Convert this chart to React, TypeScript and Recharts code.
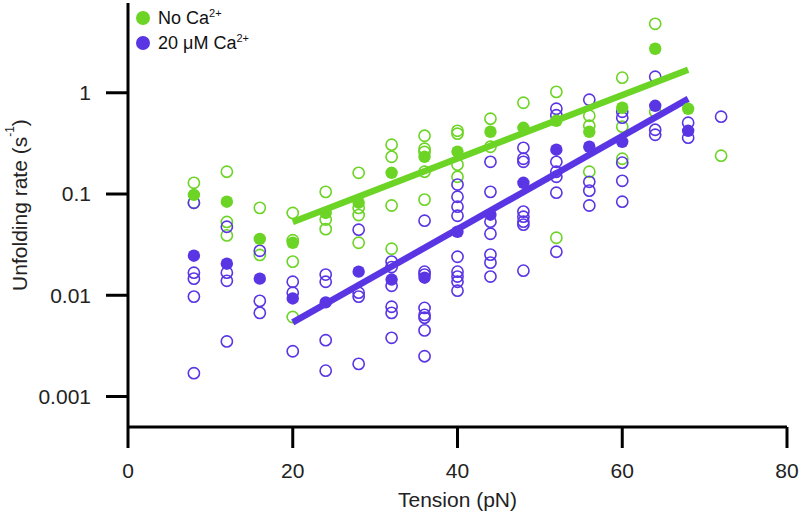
import React from 'react';
import { ScatterChart, Scatter, XAxis, YAxis } from 'recharts';

const GREEN = '#6cd425';
const PURPLE = '#5a35e4';
const FONT = '"Liberation Sans", Arial, sans-serif';

// tension (pN) -> individual unfolding rates (s^-1)
const noCaSingle: [number, number[]][] = [
  [8, [0.129, 0.082]],
  [12, [0.166, 0.053, 0.039]],
  [16, [0.073, 0.025]],
  [20, [0.065, 0.035, 0.0215, 0.0061]],
  [24, [0.105, 0.056, 0.045]],
  [28, [0.162, 0.073, 0.062, 0.033]],
  [32, [0.307, 0.233, 0.077, 0.0288]],
  [36, [0.376, 0.28, 0.26, 0.166, 0.088]],
  [40, [0.421, 0.394, 0.195, 0.148]],
  [44, [0.554, 0.293]],
  [48, [0.797]],
  [52, [1.02, 0.037]],
  [56, [0.593, 0.472, 0.166]],
  [60, [1.41, 0.462, 0.223]],
  [64, [4.8, 0.65]],
  [72, [0.239]],
];

const caSingle: [number, number[]][] = [
  [8, [0.082, 0.0167, 0.0146, 0.0097, 0.0017]],
  [12, [0.0475, 0.0167, 0.0139, 0.0035]],
  [16, [0.0275, 0.0088, 0.0067]],
  [20, [0.0136, 0.0106, 0.0028]],
  [24, [0.016, 0.0136, 0.0036, 0.0018]],
  [28, [0.0444, 0.0106, 0.0097, 0.0021]],
  [32, [0.0215, 0.019, 0.0124, 0.0077, 0.0067, 0.0038]],
  [36, [0.0545, 0.0171, 0.016, 0.0075, 0.0064, 0.006, 0.0045, 0.0025]],
  [40, [0.124, 0.094, 0.075, 0.061, 0.024, 0.0171, 0.0153, 0.0136, 0.0111]],
  [44, [0.208, 0.105, 0.0533, 0.0405, 0.0252, 0.021, 0.0153]],
  [48, [0.286, 0.223, 0.208, 0.067, 0.0597, 0.0533, 0.0498, 0.0175]],
  [52, [0.695, 0.6, 0.208, 0.166, 0.148, 0.103, 0.0269]],
  [56, [0.853, 0.132, 0.108, 0.077]],
  [60, [0.649, 0.567, 0.204, 0.135, 0.084]],
  [64, [1.44, 0.431, 0.385]],
  [68, [0.506, 0.36]],
  [72, [0.58]],
];

// mean rates
const meanTension = [8, 12, 16, 20, 24, 28, 32, 36, 40, 44, 48, 52, 56, 60, 64, 68];
const noCaMean = [0.098, 0.084, 0.036, 0.033, 0.065, 0.082, 0.162, 0.233, 0.262, 0.412, 0.451, 0.529, 0.412, 0.711, 2.72, 0.695];
const caMean = [0.0246, 0.0205, 0.0146, 0.0093, 0.0085, 0.0171, 0.0143, 0.0149, 0.0424, 0.0625, 0.129, 0.274, 0.293, 0.328, 0.744, 0.421];

// exponential fits (end points)
const fitTension = [20, 68];
const noCaFit = [0.053, 1.69];
const caFit = [0.0054, 0.87];

const xTicks = [0, 20, 40, 60, 80];
const yTicks = [0.001, 0.01, 0.1, 1];
const legendItems = [
  { color: GREEN, label: 'No Ca' },
  { color: PURPLE, label: '20 μM Ca' },
];

const flatten = (rows: [number, number[]][]) =>
  rows.flatMap(([x, ys]) => ys.map((y) => ({ x, y })));
const zip = (xs: number[], ys: number[]) => xs.map((x, i) => ({ x, y: ys[i] }));

const openDot = (color: string) => (p: any) =>
  <circle cx={p.cx} cy={p.cy} r={5.6} fill="none" stroke={color} strokeWidth={1.6} />;
const filledDot = (color: string) => (p: any) =>
  <circle cx={p.cx} cy={p.cy} r={6.2} fill={color} stroke="none" />;
const noDot = () => <g />;

const YTitle = (props: any) => {
  const vb = props.viewBox;
  const cx = 19;
  const cy = vb.y + vb.height / 2 - 10;
  return (
    <text x={cx} y={cy} transform={`rotate(-90 ${cx} ${cy})`} textAnchor="middle"
      dominantBaseline="central" fontFamily={FONT} fontSize={21} fill="#222">
      <tspan>Unfolding rate (s</tspan>
      <tspan fontSize={12} dy={-9}>-1</tspan>
      <tspan dy={9}>)</tspan>
    </text>
  );
};

const LegendBox = () => (
  <div style={{ position: 'absolute', left: 136, top: 5, fontFamily: FONT, fontSize: 18, color: '#111' }}>
    {legendItems.map((it) => (
      <div key={it.label} style={{ display: 'flex', alignItems: 'center', height: 25 }}>
        <span style={{ width: 14, height: 14, borderRadius: '50%', background: it.color, marginRight: 8 }} />
        <span>{it.label}<sup style={{ fontSize: 11, verticalAlign: 7 }}>2+</sup></span>
      </div>
    ))}
  </div>
);

export default function App() {
  return (
    <div style={{ position: 'absolute', left: 0, top: 0, width: 802, height: 515, background: '#fff' }}>
      <ScatterChart width={802} height={515} margin={{ top: 3, right: 15, bottom: 0, left: 0 }}>
        <XAxis
          type="number" dataKey="x" domain={[0, 80]} ticks={xTicks} allowDataOverflow
          height={88} axisLine={{ stroke: '#000', strokeWidth: 3 }}
          tickLine={{ stroke: '#000', strokeWidth: 3 }} tickSize={21} tickMargin={15}
          tick={{ fill: '#222', fontSize: 21, fontFamily: FONT }}
          label={{ value: 'Tension (pN)', position: 'insideBottom', offset: 8, fill: '#222', fontSize: 21, fontFamily: FONT }}
        />
        <XAxis xAxisId="top" orientation="top" type="number" domain={[0, 80]} height={0}
          tick={false} tickLine={false} axisLine={{ stroke: '#000', strokeWidth: 3 }} />
        <YAxis
          type="number" dataKey="y" scale="log" domain={[0.0005, 7.7]} ticks={yTicks} allowDataOverflow
          width={128} axisLine={{ stroke: '#000', strokeWidth: 3 }}
          tickLine={{ stroke: '#000', strokeWidth: 3 }} tickSize={22} tickMargin={15}
          tickFormatter={(v: number) => String(v)}
          tick={{ fill: '#222', fontSize: 21, fontFamily: FONT }}
          label={{ content: <YTitle /> }}
        />
        <YAxis yAxisId="right" orientation="right" type="number" scale="log" domain={[0.0005, 7.7]} width={0}
          tick={false} tickLine={false} axisLine={{ stroke: '#000', strokeWidth: 3 }} />
        <Scatter name="No Ca2+ single" data={flatten(noCaSingle)} shape={openDot(GREEN)} isAnimationActive={false} />
        <Scatter name="Ca2+ single" data={flatten(caSingle)} shape={openDot(PURPLE)} isAnimationActive={false} />
        <Scatter name="No Ca2+ fit" data={zip(fitTension, noCaFit)} line={{ stroke: GREEN, strokeWidth: 6.5 }} shape={noDot} isAnimationActive={false} />
        <Scatter name="Ca2+ fit" data={zip(fitTension, caFit)} line={{ stroke: PURPLE, strokeWidth: 6.5 }} shape={noDot} isAnimationActive={false} />
        <Scatter name="No Ca2+" data={zip(meanTension, noCaMean)} shape={filledDot(GREEN)} isAnimationActive={false} />
        <Scatter name="20 μM Ca2+" data={zip(meanTension, caMean)} shape={filledDot(PURPLE)} isAnimationActive={false} />
      </ScatterChart>
      <LegendBox />
    </div>
  );
}
